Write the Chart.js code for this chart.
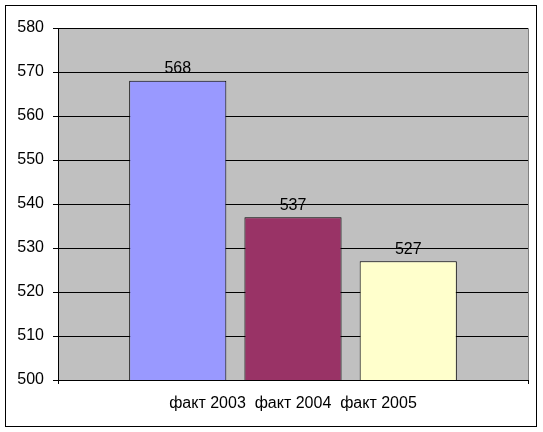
<!DOCTYPE html>
<html>
<head>
<meta charset="utf-8">
<script src="https://cdn.jsdelivr.net/npm/chart.js@4/dist/chart.umd.min.js"></script>
<style>
  html, body { margin: 0; padding: 0; background: #fff; }
  #wrap { width: 543px; height: 432px; }
</style>
</head>
<body>
<div id="wrap"><canvas id="bar-chart" width="543" height="432"></canvas></div>
<script>
// Data
const categories = ['факт 2003  факт 2004  факт 2005'];
const seriesNames = ['факт 2003', 'факт 2004', 'факт 2005'];
const seriesValues = [568, 537, 527];
const seriesColors = ['#9999FF', '#993366', '#FFFFCC'];
const yTicks = [500, 510, 520, 530, 540, 550, 560, 570, 580];

const FONT = 'Arial, "Liberation Sans", sans-serif';
const FSIZE = 16;

// gray plot area, gray top/right border, outer frame
const backdrop = {
  id: 'backdrop',
  beforeDraw(chart) {
    const { ctx, chartArea: a } = chart;
    ctx.save();
    ctx.fillStyle = '#fff';
    ctx.fillRect(0, 0, chart.width, chart.height);
    ctx.fillStyle = '#C0C0C0';
    ctx.fillRect(a.left, a.top, a.right - a.left, a.bottom - a.top);
    ctx.strokeStyle = '#808080';
    ctx.lineWidth = 1;
    ctx.beginPath();
    ctx.moveTo(a.left, a.top + 0.5);
    ctx.lineTo(a.right + 0.5, a.top + 0.5);
    ctx.lineTo(a.right + 0.5, a.bottom);
    ctx.stroke();
    ctx.strokeStyle = '#000';
    ctx.strokeRect(5.5, 5.5, 531, 421);
    ctx.restore();
  }
};

// value labels above bars
const valueLabels = {
  id: 'valueLabels',
  afterDatasetsDraw(chart) {
    const { ctx } = chart;
    ctx.save();
    ctx.font = FSIZE + 'px ' + FONT;
    ctx.fillStyle = '#000';
    ctx.textAlign = 'center';
    ctx.textBaseline = 'bottom';
    chart.data.datasets.forEach((ds, i) => {
      chart.getDatasetMeta(i).data.forEach((bar, j) => {
        ctx.fillText(ds.data[j], bar.x, bar.y - 4);
      });
    });
    ctx.restore();
  }
};

const barChart = new Chart(document.getElementById('bar-chart'), {
  type: 'bar',
  data: {
    labels: categories,
    datasets: seriesNames.map((name, i) => ({
      label: name,
      data: [seriesValues[i]],
      backgroundColor: seriesColors[i],
      borderColor: '#000',
      borderWidth: 1,
      borderSkipped: false,
      categoryPercentage: 0.7356,
      barPercentage: 0.843
    }))
  },
  options: {
    responsive: false,
    animation: false,
    devicePixelRatio: 1,
    layout: { padding: { top: 28, right: 15, left: 0, bottom: 0 } },
    plugins: {
      legend: { display: false },
      tooltip: { enabled: false }
    },
    scales: {
      x: {
        grid: { drawOnChartArea: false, color: '#000', tickLength: 4, offset: true },
        border: { color: '#000' },
        ticks: { color: '#000', font: { family: FONT, size: FSIZE }, padding: 10, maxRotation: 0 },
        afterFit(scale) { scale.height = 52; }
      },
      y: {
        min: 500,
        max: 580,
        afterBuildTicks(scale) { scale.ticks = yTicks.map(v => ({ value: v })); },
        grid: { color: '#000', tickLength: 5 },
        border: { color: '#000' },
        ticks: { color: '#000', font: { family: FONT, size: FSIZE }, padding: 9 },
        afterFit(scale) { scale.width = 58; }
      }
    }
  },
  plugins: [backdrop, valueLabels]
});
</script>
</body>
</html>
